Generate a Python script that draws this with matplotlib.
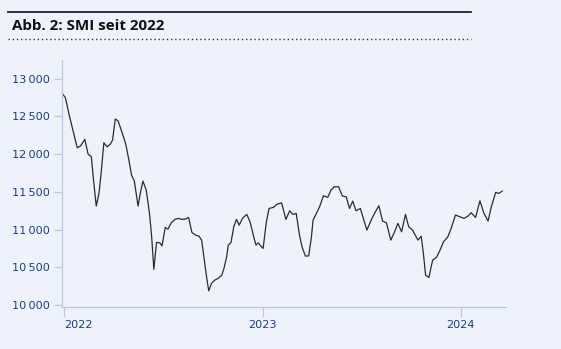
import matplotlib
matplotlib.use("Agg")
import matplotlib.pyplot as plt
import matplotlib.dates as mdates
from matplotlib.lines import Line2D
from matplotlib.ticker import FuncFormatter
import pandas as pd

# SMI (ungefaehr woechentlich)
dates = [
    "2021-12-28", "2022-01-03", "2022-01-11", "2022-01-17", "2022-01-25", "2022-01-31",
    "2022-02-08", "2022-02-14", "2022-02-20", "2022-02-24", "2022-03-01", "2022-03-06",
    "2022-03-10", "2022-03-15", "2022-03-21", "2022-03-27", "2022-03-31", "2022-04-05",
    "2022-04-10", "2022-04-16", "2022-04-21", "2022-04-25", "2022-04-30", "2022-05-05",
    "2022-05-10", "2022-05-17", "2022-05-21", "2022-05-26", "2022-06-01", "2022-06-07",
    "2022-06-11", "2022-06-15", "2022-06-20", "2022-06-26", "2022-06-30", "2022-07-06",
    "2022-07-11", "2022-07-17", "2022-07-24", "2022-07-30", "2022-08-05", "2022-08-12",
    "2022-08-18", "2022-08-24", "2022-08-31", "2022-09-06", "2022-09-11", "2022-09-16",
    "2022-09-20", "2022-09-24", "2022-09-29", "2022-10-05", "2022-10-11", "2022-10-18",
    "2022-10-22", "2022-10-27", "2022-10-30", "2022-11-04", "2022-11-09", "2022-11-14",
    "2022-11-19", "2022-11-25", "2022-12-03", "2022-12-09", "2022-12-15", "2022-12-20",
    "2022-12-24", "2022-12-29", "2023-01-02", "2023-01-08", "2023-01-13", "2023-01-21",
    "2023-01-28", "2023-02-05", "2023-02-13", "2023-02-20", "2023-02-26", "2023-03-04",
    "2023-03-10", "2023-03-15", "2023-03-21", "2023-03-27", "2023-04-01", "2023-04-04",
    "2023-04-10", "2023-04-16", "2023-04-23", "2023-05-01", "2023-05-07", "2023-05-13",
    "2023-05-21", "2023-05-28", "2023-06-04", "2023-06-10", "2023-06-16", "2023-06-22",
    "2023-06-30", "2023-07-06", "2023-07-12", "2023-07-20", "2023-07-26", "2023-08-03",
    "2023-08-10", "2023-08-17", "2023-08-25", "2023-09-01", "2023-09-07", "2023-09-14",
    "2023-09-21", "2023-09-27", "2023-10-04", "2023-10-14", "2023-10-20", "2023-10-24",
    "2023-10-28", "2023-11-03", "2023-11-10", "2023-11-17", "2023-11-23", "2023-11-30",
    "2023-12-08", "2023-12-14", "2023-12-22", "2023-12-30", "2024-01-07", "2024-01-14",
    "2024-01-20", "2024-01-28", "2024-02-05", "2024-02-12", "2024-02-20", "2024-02-26",
    "2024-03-05", "2024-03-11", "2024-03-17",
]
smi = [
    12806, 12753, 12496, 12320, 12085, 12108,
    12196, 12001, 11966, 11657, 11312, 11480,
    11746, 12151, 12098, 12134, 12187, 12466,
    12443, 12320, 12210, 12112, 11922, 11723,
    11647, 11312, 11480, 11644, 11524, 11215,
    10905, 10473, 10831, 10825, 10785, 11030,
    11007, 11091, 11136, 11149, 11136, 11140,
    11162, 10963, 10927, 10914, 10861, 10596,
    10374, 10189, 10287, 10331, 10353, 10397,
    10486, 10640, 10795, 10831, 11038, 11136,
    11060, 11149, 11202, 11104, 10927, 10795,
    10825, 10782, 10751, 11100, 11281, 11295,
    11338, 11356, 11136, 11250, 11202, 11215,
    10927, 10764, 10649, 10653, 10905, 11127,
    11215, 11303, 11449, 11428, 11524, 11568,
    11568, 11445, 11435, 11281, 11378, 11250,
    11281, 11136, 10994, 11127, 11215, 11316,
    11113, 11091, 10861, 10972, 11083, 10972,
    11202, 11038, 10994, 10861, 10914, 10684,
    10397, 10366, 10596, 10631, 10719, 10839,
    10905, 11016, 11193, 11171, 11149, 11180,
    11224, 11162, 11382, 11224, 11113, 11303,
    11494, 11480, 11511,
]
yticks = [10000, 10500, 11000, 11500, 12000, 12500, 13000]
xticks = ["2022-01-01", "2023-01-01", "2024-01-01"]
title = "Abb. 2: SMI seit 2022"

bg = "#eef3fb"
axis_col = "#bcc6e2"
label_col = "#1f3a78"

plt.rcParams['font.family'] = ['Open Sans', 'DejaVu Sans']

fig = plt.figure(figsize=(5.61, 3.49), dpi=100, facecolor=bg)
ax = fig.add_axes([62 / 561, 1 - 307 / 349, 444 / 561, 247 / 349])
ax.set_facecolor(bg)

ax.plot(pd.to_datetime(dates), smi, color="#2b2b2b", lw=0.9)

ax.set_xlim(pd.Timestamp("2021-12-28"), pd.Timestamp("2024-03-24"))
ax.set_ylim(9975, 13248)
ax.set_yticks(yticks)
ax.yaxis.set_major_formatter(FuncFormatter(lambda v, p: f"{int(v):,}".replace(",", "\u2009")))
ax.set_xticks(pd.to_datetime(xticks))
ax.xaxis.set_major_formatter(mdates.DateFormatter("%Y"))

for s in ["top", "right"]:
    ax.spines[s].set_visible(False)
for s in ["left", "bottom"]:
    ax.spines[s].set_color(axis_col)
    ax.spines[s].set_linewidth(0.9)
ax.tick_params(axis="y", length=6, width=0.9, color=axis_col, labelcolor=label_col,
               labelsize=8.1, pad=3)
ax.tick_params(axis="x", length=7.5, width=0.9, color=axis_col, labelcolor=label_col,
               labelsize=8.1, pad=1.5)
for lab in ax.get_xticklabels() + ax.get_yticklabels():
    lab.set_family("DejaVu Sans")
# erstes Jahr beginnt am Tick statt zentriert
ax.get_xticklabels()[0].set_ha("left")

# Kopfzeile mit Linien
fig.add_artist(Line2D([8 / 561, 471 / 561], [1 - 12 / 349] * 2, color="#222222", lw=1.3))
fig.add_artist(Line2D([8 / 561, 471 / 561], [1 - 39 / 349] * 2, color="#333333", lw=1.0,
                      linestyle=(0, (1, 2))))
fig.text(12 / 561, 1 - 26 / 349, title, fontsize=10.9, fontweight="bold",
         family="Open Sans", color="#111111", va="center", ha="left")

fig.savefig("out.png", dpi=100, facecolor=bg)
